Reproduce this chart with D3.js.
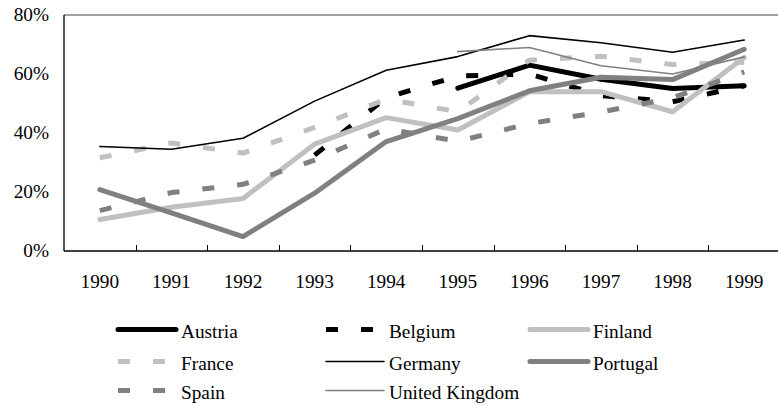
<!DOCTYPE html>
<html>
<head>
<meta charset="utf-8">
<script src="https://cdn.jsdelivr.net/npm/d3@7"></script>
<style>
  body { margin: 0; background: #fff; }
  svg { display: block; }
</style>
</head>
<body>
<div id="chart"></div>
<script>
// values, in %; null = no data that year
const years = ["1990", "1991", "1992", "1993", "1994", "1995", "1996", "1997", "1998", "1999"];
const austria  = [null, null, null, null, null, 55.2, 63.0, 58.2, 55.1, 56.0];
const belgium  = [null, null, null, 32.5, 52.0, 59.3, 60.0, 52.7, 50.6, 56.0];
const finland  = [10.7, 14.8, 17.8, 36.2, 45.2, 41.0, 54.0, 54.0, 47.2, 65.6];
const france   = [31.6, 36.6, 33.2, 41.9, 51.5, 47.2, 64.7, 66.0, 63.2, 64.0];
const germany  = [35.4, 34.5, 38.2, 50.8, 61.3, 65.9, 73.0, 70.6, 67.4, 71.5];
const portugal = [20.8, 12.9, 4.9, 19.6, 37.1, 44.9, 54.3, 58.9, 58.1, 68.4];
const spain    = [13.7, 19.8, 22.6, 30.8, 41.4, 37.2, 43.2, 47.1, 51.9, 60.7];
const uk       = [null, null, null, null, null, 67.6, 69.0, 62.8, 60.0, 65.8];
const yTicks = [0, 20, 40, 60, 80];

// series, in the order they were drawn / listed
const series = [
  { name: "Austria",        values: austria,  color: "#000",    width: 5,   dash: null },
  { name: "Belgium",        values: belgium,  color: "#000",    width: 5,   dash: "12,23" },
  { name: "Finland",        values: finland,  color: "#c0c0c0", width: 5,   dash: null },
  { name: "France",         values: france,   color: "#c0c0c0", width: 5,   dash: "12,23" },
  { name: "Germany",        values: germany,  color: "#000",    width: 1.6, dash: null },
  { name: "Portugal",       values: portugal, color: "#808080", width: 5,   dash: null },
  { name: "Spain",          values: spain,    color: "#808080", width: 5,   dash: "12,23" },
  { name: "United Kingdom", values: uk,       color: "#808080", width: 1.6, dash: null }
];

const width = 778,
      height = 406;
const plotLeft = 64, plotRight = 780, plotTop = 15, plotBottom = 251;
const FONT = "'Liberation Serif', 'Times New Roman', serif",
      FONT_SIZE = 19.3;

let svg = d3.select("#chart")
            .append("svg")
            .attr("width", width)
            .attr("height", height);

// every label gets the font set on itself
const label = sel => sel.attr("font-family", FONT)
                        .attr("font-size", FONT_SIZE)
                        .attr("fill", "#000");

let x = d3.scaleBand()
          .domain(years)
          .range([plotLeft, plotRight]);

let y = d3.scaleLinear()
          .domain([0, 80])
          .range([plotBottom, plotTop]);

// top frame line (gray)
svg.append("line")
   .attr("x1", plotLeft).attr("x2", width)
   .attr("y1", y(80)).attr("y2", y(80))
   .attr("stroke", "#808080")
   .attr("stroke-width", 1.3);

// y axis: labels only, plus the black spine
svg.append("line")
   .attr("x1", plotLeft).attr("x2", plotLeft)
   .attr("y1", plotTop).attr("y2", plotBottom)
   .attr("stroke", "#000")
   .attr("stroke-width", 1.3);

svg.append("g")
   .selectAll("text")
   .data(yTicks)
   .enter()
   .append("text")
   .call(label)
   .attr("x", 49)
   .attr("y", d => y(d))
   .attr("dy", "0.32em")
   .attr("text-anchor", "end")
   .text(d => d + "%");

// x axis: ticks sit on band boundaries and point up into the plot
const xAxis = svg.append("g");
xAxis.append("line")
     .attr("x1", plotLeft).attr("x2", width)
     .attr("y1", plotBottom).attr("y2", plotBottom)
     .attr("stroke", "#000")
     .attr("stroke-width", 1.3);

xAxis.selectAll(".tick")
     .data(years.slice(1))
     .enter()
     .append("line")
     .attr("class", "tick")
     .attr("x1", d => Math.round(x(d)) + 0.5)
     .attr("x2", d => Math.round(x(d)) + 0.5)
     .attr("y1", plotBottom)
     .attr("y2", plotBottom - 6)
     .attr("stroke", "#000")
     .attr("stroke-width", 1);

xAxis.selectAll(".label")
     .data(years)
     .enter()
     .append("text")
     .attr("class", "label")
     .call(label)
     .attr("x", d => x(d) + x.bandwidth() / 2)
     .attr("y", 288)
     .attr("text-anchor", "middle")
     .text(d => d);

// lines
const line = d3.line()
               .defined(d => d.v !== null)
               .x(d => x(d.year) + x.bandwidth() / 2)
               .y(d => y(d.v));

svg.append("g")
   .selectAll("path")
   .data(series)
   .enter()
   .append("path")
   .attr("d", s => line(s.values.map((v, i) => ({ year: years[i], v }))))
   .attr("fill", "none")
   .attr("stroke", s => s.color)
   .attr("stroke-width", s => s.width)
   .attr("stroke-dasharray", s => s.dash)
   .attr("stroke-linejoin", "round")
   .attr("stroke-linecap", s => s.dash ? "butt" : "round");

// legend: 3 columns, 3 rows
const legendCols = [118, 326, 530],
      legendRows = [329.5, 361.5, 390.5],
      swatch = 58;

let item = svg.append("g")
              .selectAll("g")
              .data(series)
              .enter()
              .append("g")
              .attr("transform", (s, i) => `translate(${legendCols[i % 3]},${legendRows[Math.floor(i / 3)]})`);

item.append("line")
    .attr("x1", 0).attr("x2", swatch)
    .attr("y1", 0).attr("y2", 0)
    .attr("stroke", s => s.color)
    .attr("stroke-width", s => s.width)
    .attr("stroke-dasharray", s => s.dash)
    .attr("stroke-linecap", s => s.dash ? "butt" : "round");

item.append("text")
    .call(label)
    .attr("x", swatch + 5)
    .attr("y", 8.5)
    .text(s => s.name);
</script>
</body>
</html>
